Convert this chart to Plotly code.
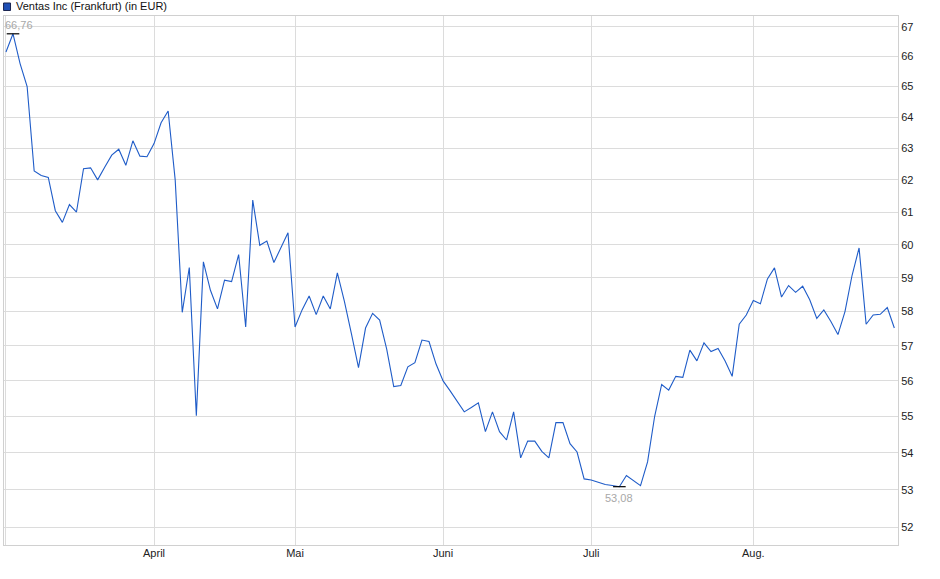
import math
import pandas as pd
import plotly.graph_objects as go

# Frankfurt trading days, 3 March 2025 - 29 August 2025
holidays = ["2025-04-18", "2025-04-21", "2025-05-01"]
dates = [d.strftime("%Y-%m-%d") for d in pd.bdate_range("2025-03-03", "2025-08-29")
         if d.strftime("%Y-%m-%d") not in holidays]

prices = [
    66.15, 66.76, 65.76, 65.00, 62.28, 62.14, 62.08, 61.04, 60.68, 61.23,
    61.00, 62.35, 62.38, 62.00, 62.40, 62.78, 62.97, 62.46, 63.24, 62.75,
    62.73, 63.15, 63.82, 64.20, 62.00, 57.98, 59.31, 55.02, 59.48, 58.63,
    58.08, 58.93, 58.89, 59.70, 57.55, 61.37, 59.98, 60.11, 59.46, 59.93,
    60.36, 57.55, 58.05, 58.46, 57.91, 58.46, 58.08, 59.15, 58.30, 57.35,
    56.38, 57.52, 57.95, 57.75, 56.91, 55.84, 55.87, 56.40, 56.52, 57.17,
    57.13, 56.48, 56.00, 55.72, 55.44, 55.13, 55.25, 55.38, 54.58, 55.13,
    54.58, 54.35, 55.13, 53.86, 54.32, 54.32, 54.04, 53.86, 54.83, 54.83,
    54.25, 54.02, 53.29, 53.26, 53.20, 53.14, 53.11, 53.08, 53.38, 53.24,
    53.11, 53.75, 55.00, 55.90, 55.74, 56.13, 56.10, 56.88, 56.57, 57.09,
    56.84, 56.93, 56.57, 56.13, 57.63, 57.90, 58.33, 58.23, 58.97, 59.30,
    58.43, 58.77, 58.57, 58.75, 58.35, 57.80, 58.05, 57.71, 57.33, 58.00,
    59.07, 59.90, 57.63, 57.90, 57.92, 58.12, 57.52,
]

month_ticks = ["2025-03-03", "2025-04-01", "2025-05-02", "2025-06-02", "2025-07-01", "2025-08-01"]
month_labels = ["", "April", "Mai", "Juni", "Juli", "Aug."]
y_ticks = list(range(52, 68))
series_name = "Ventas Inc (Frankfurt) (in EUR)"

LINE = "#1f5cc8"
GRID = "#dcdcdc"
FONT = "Liberation Sans, Arial, sans-serif"

i_max = max(range(len(prices)), key=lambda i: prices[i])
i_min = min(range(len(prices)), key=lambda i: prices[i])

def fmt(v):
    return f"{v:.2f}".replace(".", ",")

fig = go.Figure()
fig.add_trace(go.Scatter(
    x=dates, y=prices, mode="lines",
    line=dict(color=LINE, width=1.1), showlegend=False, hoverinfo="skip",
))
fig.add_trace(go.Scatter(
    x=[dates[i_max], dates[i_min]], y=[prices[i_max], prices[i_min]],
    mode="markers",
    marker=dict(symbol="line-ew", size=9, line=dict(color="#000000", width=1.2)),
    showlegend=False, hoverinfo="skip",
))

annotations = [
    dict(x=dates[i_max], y=math.log10(prices[i_max]), xref="x", yref="y",
         text=fmt(prices[i_max]), showarrow=False, xanchor="center", yanchor="bottom",
         xshift=6, yshift=1, font=dict(family=FONT, size=11, color="#a8a8a8")),
    dict(x=dates[i_min], y=math.log10(prices[i_min]), xref="x", yref="y",
         text=fmt(prices[i_min]), showarrow=False, xanchor="center", yanchor="top",
         xshift=0, yshift=-3, font=dict(family=FONT, size=11, color="#a8a8a8")),
    dict(x=0.0112, y=1.018, xref="paper", yref="paper", text=series_name,
         showarrow=False, xanchor="left", yanchor="middle",
         font=dict(family=FONT, size=11, color="#111111")),
]

shapes = [
    dict(type="rect", xref="paper", yref="paper", x0=-0.0005, x1=0.0073, y0=1.0104, y1=1.0246,
         fillcolor="#1f4fb5", line=dict(color="#1a2550", width=1)),
]

fig.update_layout(
    width=940, height=579,
    margin=dict(l=4, r=42, t=16, b=34),
    paper_bgcolor="white", plot_bgcolor="white",
    font=dict(family=FONT, size=11, color="#222222"),
    annotations=annotations, shapes=shapes,
    showlegend=False,
)
fig.update_xaxes(
    type="category", range=[-0.28, len(prices) - 0.48],
    tickvals=month_ticks, ticktext=month_labels,
    showgrid=True, gridcolor=GRID, gridwidth=1,
    showline=True, linecolor="#d0d0d0", linewidth=1, mirror=True,
    ticks="", zeroline=False, tickfont=dict(size=11, color="#222222"),
    ticklabelstandoff=-2,
)
fig.update_yaxes(
    type="log", range=[1.71211, 1.82843], side="right",
    tickvals=y_ticks, ticktext=[str(v) for v in y_ticks],
    showgrid=True, gridcolor=GRID, gridwidth=1,
    showline=True, linecolor="#d0d0d0", linewidth=1, mirror=True,
    ticks="", zeroline=False, tickfont=dict(size=11, color="#222222"),
)

fig.write_html(
    "out.html",
    config={"displayModeBar": False, "staticPlot": True},
    post_script="document.body.style.margin='0px';document.body.style.overflow='hidden';",
)
